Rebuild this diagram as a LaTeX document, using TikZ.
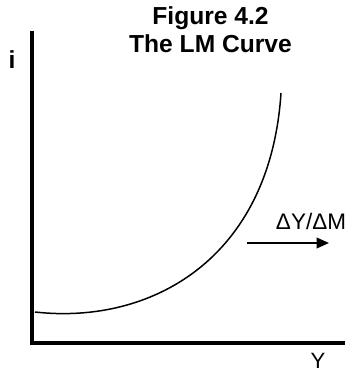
\documentclass[tikz,border=0pt]{standalone}
\usepackage{fontspec}
\setmainfont{Liberation Sans}
\usetikzlibrary{arrows.meta,calc}
\usepackage{tkz-euclide}

\begin{document}
\begin{tikzpicture}
\useasboundingbox (0,0) rectangle (7.06,7.42);

\tkzDefPoints{0.64/0.56/O,0.64/6.80/T,6.90/0.56/E}

% Define the LM curve ends and its controls.
\tkzDefPoints{0.70/1.18/L1,3.00/0.92/C1,5.40/2.22/C2,5.62/5.56/L2}

% Shift arrow.
\tkzDefPoints{4.94/2.56/S1,6.58/2.56/S2}

\draw[line width=2.3pt] (T) -- (O) -- (E);
\draw[line width=0.85pt] (L1) .. controls (C1) and (C2) .. (L2);
\draw[line width=1.1pt,-{Triangle[length=7pt,width=6pt]}] (S1) -- (S2);

\node[font=\bfseries\fontsize{14}{16}\selectfont,align=center] (title)
  at (4.21,6.83) {Figure 4.2\\The LM Curve};
\node[font=\bfseries\fontsize{14}{16}\selectfont] (i) at (0.24,6.22) {i};
\node[font=\fontsize{12.6}{14}\selectfont] (Y) at (6.36,0.2) {Y};
\node[font=\fontsize{12.8}{14}\selectfont] (shift) at (6.22,3.0) {ΔY/ΔM};

\end{tikzpicture}
\end{document}
